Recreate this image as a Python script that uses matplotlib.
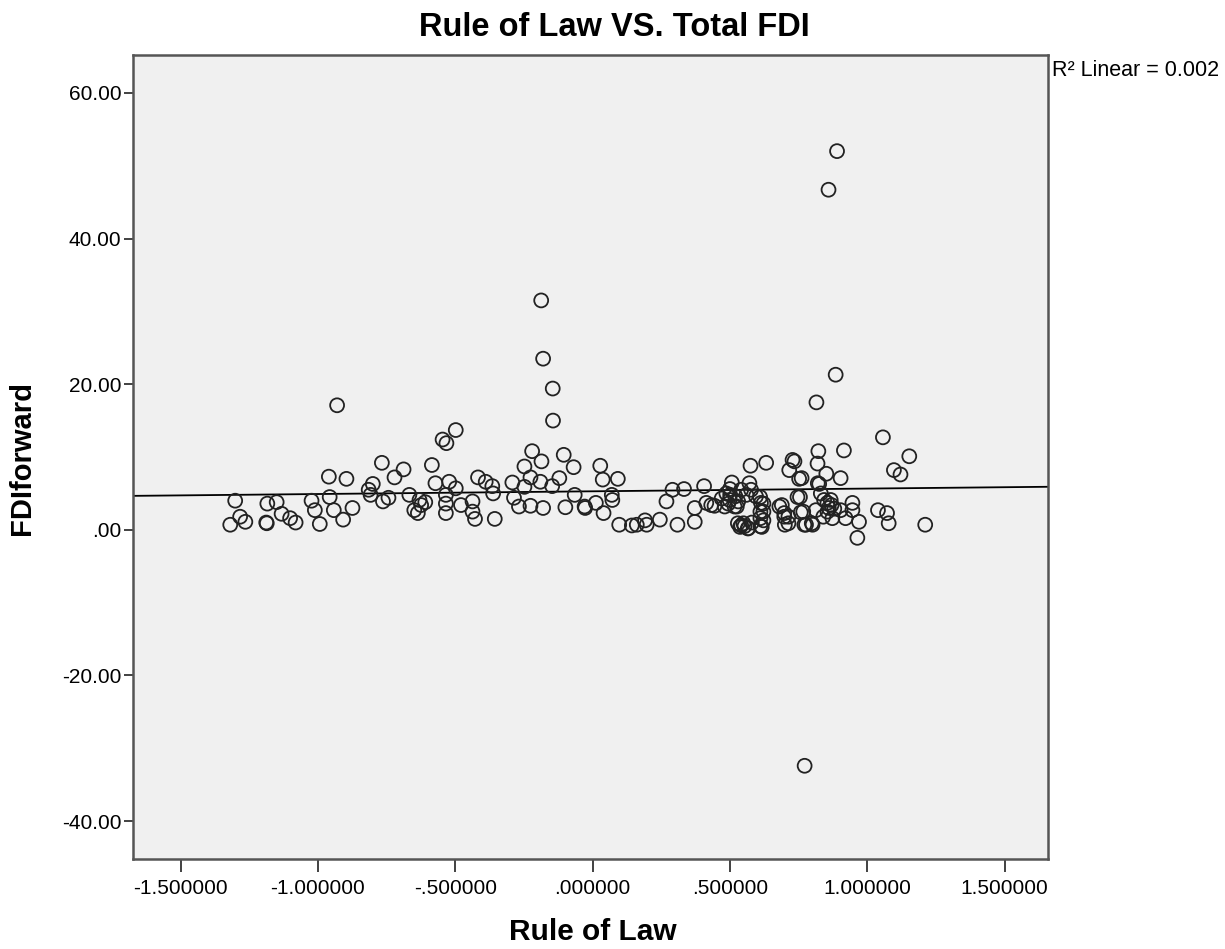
import numpy as np
import matplotlib
matplotlib.use("Agg")
import matplotlib.pyplot as plt
from matplotlib.ticker import FuncFormatter

plt.rcParams['font.family'] = ['Liberation Sans', 'DejaVu Sans']

# Rule of Law score per country (x) and FDI forward (y)
rule_of_law = [
    -1.301, -1.283, -1.264, -1.319, -1.184, -1.150, -1.186, -1.188, -1.132, -1.101,
    -1.081, -1.023, -1.011, -0.993, -0.960, -0.957, -0.942, -0.930, -0.908, -0.896,
    -0.874,
    -0.767, -0.688, -0.721, -0.800, -0.815, -0.808, -0.763, -0.743, -0.667, -0.630,
    -0.609, -0.649, -0.636, -0.624, -0.585, -0.572, -0.546, -0.532, -0.498, -0.522,
    -0.498, -0.534, -0.534, -0.534, -0.479, -0.437, -0.437, -0.428, -0.417, -0.389,
    -0.365, -0.362, -0.356, -0.292, -0.286, -0.268, -0.248, -0.220, -0.186, -0.226,
    -0.190, -0.248, -0.226, -0.180, -0.145, -0.144, -0.105, -0.121, -0.147, -0.069,
    -0.065, -0.099, -0.187, -0.180,
    -0.027, 0.012, 0.040, 0.070, 0.072, 0.028, 0.037, 0.092, 0.097, 0.143,
    0.161, 0.191, 0.197, 0.245, 0.269, 0.291, 0.333, 0.309, 0.372, 0.372,
    0.406, 0.414, -0.029,
    0.432, 0.444, 0.487, 0.507, 0.499, 0.481, 0.517, 0.541, 0.571, 0.577,
    0.595, 0.613, 0.611, 0.611, 0.611, 0.529, 0.541, 0.553, 0.565, 0.575,
    0.632, 0.680, 0.698, 0.700, 0.728, 0.716, 0.752, 0.746, 0.758, 0.771,
    0.885, 0.815, 1.057, 1.153, 1.097, 1.121, 0.915, 0.822, 0.819, 0.851,
    0.903, 0.825, 0.735, 0.698, 0.777, 0.801, 0.813, 0.831, 0.843, 0.855,
    0.867, 0.855, 0.873, 0.903, 0.921, 0.946, 0.946, 0.970, 0.964, 1.039,
    1.072, 1.078, 1.211, 0.860, 0.870, 0.880, 0.840,
    0.501, 0.494, 0.525, 0.610, 0.622, 0.622, 0.622, 0.616, 0.549, 0.567,
    0.537, 0.689, 0.713, 0.713, 0.755, 0.761, 0.767, 0.798, 0.820,
    0.470, 0.520, 0.530, 0.560, 0.500, 0.580,
    0.890, 0.859, 0.772,
]
fdi_forward = [
    4.0, 1.8, 1.1, 0.7, 3.6, 3.8, 0.9, 1.0, 2.2, 1.6,
    1.0, 4.0, 2.7, 0.8, 7.3, 4.5, 2.7, 17.1, 1.4, 7.0,
    3.0,
    9.2, 8.3, 7.2, 6.3, 5.5, 4.8, 3.9, 4.4, 4.8, 4.1,
    3.8, 2.7, 2.3, 3.4, 8.9, 6.4, 12.4, 11.9, 13.7, 6.6,
    5.7, 4.8, 3.6, 2.3, 3.4, 3.9, 2.5, 1.5, 7.2, 6.6,
    6.0, 5.0, 1.5, 6.5, 4.4, 3.2, 8.7, 10.8, 9.4, 7.2,
    6.6, 5.9, 3.3, 3.0, 19.4, 15.0, 10.3, 7.1, 6.0, 8.6,
    4.8, 3.1, 31.5, 23.5,
    3.0, 3.7, 2.3, 4.8, 4.1, 8.8, 6.9, 7.0, 0.7, 0.6,
    0.7, 1.3, 0.7, 1.4, 3.9, 5.5, 5.6, 0.7, 3.0, 1.1,
    6.0, 3.7, 3.2,
    3.4, 3.3, 5.0, 6.5, 4.1, 3.2, 3.2, 5.5, 6.4, 5.5,
    4.6, 3.7, 2.5, 1.6, 0.5, 0.9, 0.6, 0.5, 0.2, 8.8,
    9.2, 3.2, 2.3, 0.7, 9.6, 8.2, 7.0, 4.5, 2.4, 0.7,
    21.3, 17.5, 12.7, 10.1, 8.2, 7.6, 10.9, 10.8, 9.1, 7.7,
    7.1, 6.3, 9.4, 1.8, 0.7, 0.7, 2.7, 5.0, 4.1, 3.7,
    4.1, 2.5, 1.6, 2.7, 1.6, 3.7, 2.7, 1.1, -1.1, 2.7,
    2.3, 0.9, 0.7, 3.0, 3.4, 2.9, 1.8,
    4.8, 3.6, 3.2, 4.5, 3.6, 2.5, 1.3, 0.4, 0.9, 0.2,
    0.4, 3.4, 1.8, 0.9, 4.5, 7.1, 2.5, 0.9, 6.4,
    4.3, 4.6, 3.9, 4.8, 5.6, 1.0,
    52.0, 46.7, -32.4,
]

# linear fit line as drawn in the chart
fit_intercept = 5.29
fit_slope = 0.374
r2_text = "R² Linear = 0.002"

x_ticks = [-1.5, -1.0, -0.5, 0.0, 0.5, 1.0, 1.5]
y_ticks = [-40, -20, 0, 20, 40, 60]


def spss_fmt(decimals):
    def f(v, pos):
        s = f"{v:.{decimals}f}"
        if s.startswith("-0."):
            s = "-" + s[2:]
        elif s.startswith("0."):
            s = s[1:]
        return s
    return FuncFormatter(f)


fig = plt.figure(figsize=(12.25, 9.49), dpi=100)
ax = fig.add_axes([133 / 1225, 1 - 859 / 949, (1048 - 133) / 1225, (859 - 55) / 949])
ax.set_facecolor('#f0f0f0')

ax.scatter(rule_of_law, fdi_forward, s=100, facecolors='none',
           edgecolors='#222222', linewidths=1.3, zorder=3)

xlim = (-1.673, 1.658)
xs = np.array(xlim)
ax.plot(xs, fit_intercept + fit_slope * xs, color='black', lw=1.3, zorder=2)

ax.set_xlim(*xlim)
ax.set_ylim(-45.2, 65.2)
ax.set_xticks(x_ticks)
ax.set_yticks(y_ticks)
ax.xaxis.set_major_formatter(spss_fmt(6))
ax.yaxis.set_major_formatter(spss_fmt(2))
ax.tick_params(axis='x', length=9.5, width=1.3, color='#333333', labelsize=15, pad=5)
ax.tick_params(axis='y', length=6.5, width=1.3, color='#333333', labelsize=15, pad=2)

for sp in ax.spines.values():
    sp.set_color('#555555')
    sp.set_linewidth(1.8)

fig.text(614 / 1225, 1 - 28 / 949, "Rule of Law VS. Total FDI", ha='center', va='center',
         fontsize=23.5, fontweight='bold')
fig.text(593 / 1225, 1 - 932 / 949, "Rule of Law", ha='center', va='center',
         fontsize=21.5, fontweight='bold')
fig.text(22 / 1225, 1 - 458 / 949, "FDIforward", ha='center', va='center',
         rotation=90, fontsize=21, fontweight='bold')
fig.text(1052 / 1225, 1 - 70 / 949, r2_text, ha='left', va='center', fontsize=15.5)

fig.savefig('out.png', dpi=100, facecolor='white')
